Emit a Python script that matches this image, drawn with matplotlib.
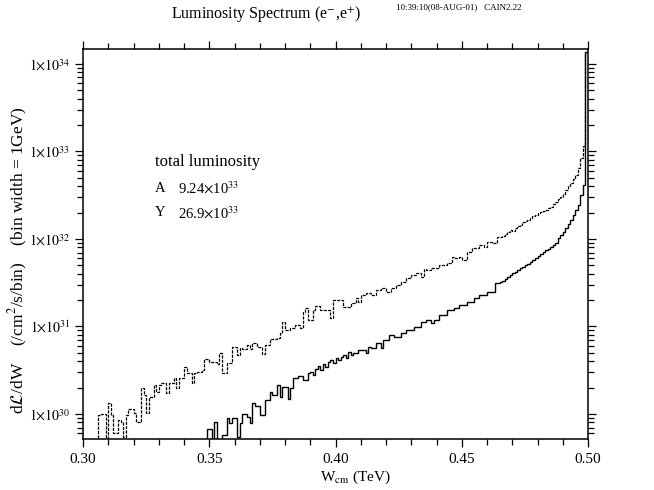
import matplotlib
matplotlib.use('Agg')
import matplotlib.pyplot as plt
import numpy as np
from matplotlib.ticker import FixedLocator, FixedFormatter, LogLocator, NullFormatter

plt.rcParams['font.family'] = ['Liberation Serif', 'DejaVu Serif']
plt.rcParams['mathtext.fontset'] = 'stix'

# bin edges: 1 GeV bins between 0.30 and 0.50 TeV
w_lo = 0.300
w_hi = 0.500
n_bins = 200

# log10 of dL/dW per bin (upper, dotted curve)
upper_log = [
    29.5, 29.5, 29.5, 29.5, 29.5, 29.5, 29.99, 30.00, 30.00, 29.6,
    30.13, 29.99, 29.78, 29.78, 29.93, 29.91, 29.74, 29.99, 30.06, 30.06,
    30.01, 29.91, 29.91, 30.30, 30.22, 30.01, 30.19, 30.19, 30.33, 30.25,
    30.33, 30.35, 30.35, 30.24, 30.35, 30.35, 30.41, 30.30, 30.41, 30.41,
    30.54, 30.47, 30.47, 30.35, 30.47, 30.48, 30.48, 30.50, 30.63, 30.63,
    30.59, 30.59, 30.59, 30.57, 30.70, 30.47, 30.47, 30.58, 30.58, 30.77,
    30.77, 30.67, 30.75, 30.74, 30.74, 30.79, 30.74, 30.81, 30.81, 30.77,
    30.77, 30.69, 30.79, 30.79, 30.86, 30.86, 30.86, 30.87, 30.93, 31.05,
    30.96, 30.96, 30.98, 30.98, 31.02, 31.02, 30.98, 31.17, 31.21, 31.07,
    31.07, 31.19, 31.23, 31.23, 31.19, 31.19, 31.19, 31.19, 31.10, 31.30,
    31.30, 31.30, 31.30, 31.22, 31.22, 31.22, 31.27, 31.27, 31.33, 31.28,
    31.36, 31.36, 31.38, 31.38, 31.36, 31.36, 31.42, 31.42, 31.44, 31.44,
    31.39, 31.39, 31.44, 31.44, 31.47, 31.47, 31.51, 31.51, 31.55, 31.55,
    31.59, 31.59, 31.61, 31.61, 31.57, 31.66, 31.65, 31.65, 31.67, 31.67,
    31.67, 31.70, 31.70, 31.70, 31.73, 31.73, 31.79, 31.78, 31.78, 31.79,
    31.76, 31.76, 31.85, 31.85, 31.90, 31.90, 31.90, 31.93, 31.93, 31.91,
    31.97, 31.97, 31.95, 31.95, 32.02, 32.02, 32.03, 32.06, 32.08, 32.10,
    32.09, 32.13, 32.15, 32.16, 32.19, 32.21, 32.22, 32.24, 32.26, 32.27,
    32.30, 32.31, 32.32, 32.33, 32.35, 32.37, 32.40, 32.42, 32.46, 32.48,
    32.51, 32.56, 32.61, 32.64, 32.69, 32.73, 32.81, 32.93, 33.06, 34.14,
]

# log10 of dL/dW per bin (lower, solid curve)
lower_log = [29.5] * 49 + [
    29.83, 29.83, 29.5, 29.91, 29.5, 29.5, 29.76, 29.76, 29.95, 29.90, 29.95,
    29.95, 29.74, 29.90, 30.00, 30.00, 29.97, 29.90, 30.13, 30.09, 30.09,
    29.99, 29.99, 30.16, 30.16, 30.25, 30.22, 30.22, 30.33, 30.19, 30.31,
    30.31, 30.17, 30.30, 30.41, 30.41, 30.43, 30.43, 30.39, 30.39, 30.47,
    30.48, 30.45, 30.51, 30.55, 30.50, 30.57, 30.54, 30.59, 30.62, 30.58,
    30.64, 30.62, 30.65, 30.67, 30.64, 30.71, 30.67, 30.70, 30.70, 30.73,
    30.73, 30.73, 30.70, 30.77, 30.75, 30.75, 30.81, 30.81, 30.75, 30.85,
    30.85, 30.90, 30.90, 30.88, 30.88, 30.88, 30.93, 30.93, 30.96, 30.96,
    30.96, 30.99, 30.99, 30.99, 31.05, 31.05, 31.07, 31.07, 31.04, 31.07,
    31.07, 31.13, 31.13, 31.13, 31.19, 31.19, 31.19, 31.21, 31.21, 31.25,
    31.25, 31.25, 31.28, 31.28, 31.28, 31.33, 31.33, 31.36, 31.36, 31.36,
    31.39, 31.39, 31.39, 31.50, 31.50, 31.51, 31.52, 31.54, 31.57, 31.59,
    31.61, 31.62, 31.65, 31.67, 31.68, 31.70, 31.71, 31.74, 31.76, 31.78,
    31.81, 31.83, 31.85, 31.87, 31.89, 31.91, 31.93, 31.95, 32.01, 32.05,
    32.08, 32.13, 32.17, 32.22, 32.27, 32.33, 32.39, 32.50, 32.62, 34.14,
]

x_ticks = [0.30, 0.35, 0.40, 0.45, 0.50]
x_ticklabels = ['0.30', '0.35', '0.40', '0.45', '0.50']
y_ticks = [1e30, 1e31, 1e32, 1e33, 1e34]
y_ticklabels = [r'$1{\times}10^{30}$', r'$1{\times}10^{31}$', r'$1{\times}10^{32}$',
                r'$1{\times}10^{33}$', r'$1{\times}10^{34}$']

edges = np.linspace(w_lo, w_hi, n_bins + 1)
upper = 10.0 ** np.array(upper_log)
lower = 10.0 ** np.array(lower_log)

fig = plt.figure(figsize=(6.54, 4.90), dpi=100)
ax = fig.add_axes([83 / 654, 1 - 439 / 490, 505 / 654, 390 / 490])

ax.stairs(upper, edges, baseline=None, color='black', linewidth=0.9,
          linestyle=(0, (2.5, 1)))
ax.stairs(lower, edges, baseline=None, color='black', linewidth=1.0)

ax.set_yscale('log')
ax.set_xlim(w_lo, w_hi)
ax.set_ylim(5.18e29, 1.48e34)

ax.xaxis.set_major_locator(FixedLocator(x_ticks))
ax.xaxis.set_major_formatter(FixedFormatter(x_ticklabels))
ax.xaxis.set_minor_locator(FixedLocator(np.arange(0.30, 0.5001, 0.01)))
ax.yaxis.set_major_locator(FixedLocator(y_ticks))
ax.yaxis.set_major_formatter(FixedFormatter(y_ticklabels))
ax.yaxis.set_minor_locator(LogLocator(base=10, subs=np.arange(2, 10)))
ax.yaxis.set_minor_formatter(NullFormatter())

ax.tick_params(which='both', direction='out', top=True, right=True,
               width=0.9, colors='black')
ax.tick_params(axis='x', labelsize=11, pad=4)
ax.tick_params(axis='y', labelsize=10, pad=3)
ax.tick_params(which='major', length=6)
ax.tick_params(which='minor', length=4)
for s in ax.spines.values():
    s.set_linewidth(1.1)

fig.text(266 / 654, 1 - 14 / 490, r'Luminosity Spectrum (e$^{-}$,e$^{+}$)',
         ha='center', va='center', fontsize=11.5)
fig.text(522 / 654, 1 - 7 / 490, '10:39:10(08-AUG-01)   CAIN2.22',
         ha='right', va='center', fontsize=6.5)

fig.text(18 / 654, 1 - 260 / 490,
         r'd$\mathcal{L}$/dW    (/cm$^2$/s/bin)    (bin width = 1GeV)',
         rotation=90, ha='center', va='center', fontsize=12.5)
fig.text(320 / 654, 1 - 477 / 490, r'W$_{\rm cm}$ (TeV)',
         ha='left', va='center', fontsize=11)

fig.text(155 / 654, 1 - 162 / 490, 'total luminosity', ha='left', va='center',
         fontsize=12)
fig.text(155 / 654, 1 - 188 / 490, 'A', ha='left', va='center', fontsize=10.5)
fig.text(178 / 654, 1 - 188 / 490, r'9.24$\times$10$^{33}$', ha='left',
         va='center', fontsize=10.5)
fig.text(155 / 654, 1 - 213 / 490, 'Y', ha='left', va='center', fontsize=10.5)
fig.text(178 / 654, 1 - 213 / 490, r'26.9$\times$10$^{33}$', ha='left',
         va='center', fontsize=10.5)

fig.savefig('out.png', dpi=100)
